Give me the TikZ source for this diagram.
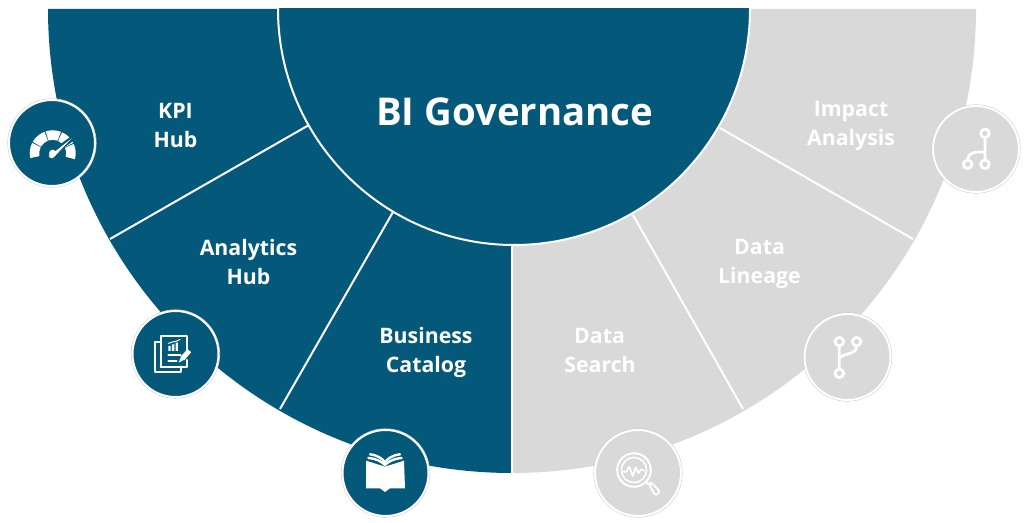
\documentclass[tikz,border=0pt]{standalone}
\usepackage{fontspec}
\setmainfont{Open Sans}
\definecolor{dk}{HTML}{04587A}
\definecolor{lg}{HTML}{D9D9D9}
\tikzset{
 x=1pt,y=1pt,
 lbl/.style={text=white,font=\bfseries\fontsize{21.3}{29}\selectfont,align=center,inner sep=0pt},
 badgedk/.style={circle,fill=dk,draw=white,line width=2pt,minimum size=86pt,inner sep=0pt},
 badgelg/.style={circle,fill=lg,draw=white,line width=2pt,minimum size=86pt,inner sep=0pt},
 halo/.style={draw=black!20,line width=.7pt,fill=none},
 divider/.style={draw=white,line width=2pt},
 ic/.style={draw=white,line width=2pt,line cap=round,line join=round},
 icf/.style={fill=white,draw=none},
 crop/.style 2 args={shift={(#1pt,522pt-#2pt)},x=.3333pt,y=-.3333pt},
}
\newcommand{\badge}[4]{%
 \draw[halo] (#2,#3) circle (44.2pt);
 \node[badge#4] (#1) at (#2,#3) {};}
\begin{document}
\begin{tikzpicture}
\useasboundingbox (0,0) rectangle (1024,522);
\coordinate (o) at (512,513);
\fill[dk] (48,513) arc (180:270:464pt) -- (o) -- cycle;
\fill[lg] (976,513) arc (0:-90:464pt) -- (o) -- cycle;
% dividers
\coordinate (d1a) at (309,397); \coordinate (d1b) at (110,283);
\coordinate (d2a) at (393,310); \coordinate (d2b) at (280,113);
\coordinate (d3a) at (512,277); \coordinate (d3b) at (512,49);
\coordinate (d4a) at (633,307); \coordinate (d4b) at (743,113);
\coordinate (d5a) at (720,394); \coordinate (d5b) at (913,283);
\foreach \n in {1,...,5} \draw[divider] (d\n a) -- (d\n b);
% central half disc
\begin{scope}
\clip (0,513) rectangle (1024,0);
\fill[dk,draw=white,line width=2pt] (514,513) circle (236pt);
\end{scope}
\node[text=white,font=\bfseries\fontsize{38.3}{42}\selectfont,inner sep=0pt] (title) at (514.5,410) {BI Governance};
% labels
\node[lbl] (kpi) at (175.5,396.5) {KPI\\Hub};
\node[lbl] (ana) at (248.5,259.5) {Analytics\\Hub};
\node[lbl] (bus) at (426,170) {Business\\Catalog};
\node[lbl] (sea) at (600,171) {Data\hspace*{1pt}\\Search};
\node[lbl] (lin) at (759.5,258) {Data\\Lineage};
\node[lbl] (imp) at (851,396) {Impact\\Analysis};
% badges
\badge{bkpi}{52}{379}{dk}
\badge{bana}{175.5}{168}{dk}
\badge{bbus}{385.5}{49}{dk}
\badge{bsea}{638}{49}{lg}
\badge{blin}{847.5}{165}{lg}
\badge{bimp}{976}{373}{lg}
% gauge
\begin{scope}[shift={(52.7pt,368.7pt)}]
\foreach \a in {-15,27,69,111,153}
  \fill[icf] (\a:23) arc (\a:\a+39:23pt) -- (\a+39:13.5) arc (\a+39:\a:13.5pt) -- cycle;
\draw[dk,line width=5pt,line cap=round] (2,2) -- (20,15);
\fill[icf] (-3,-2.5) -- (19,15) -- (1.5,-3.5) arc (-30:-200:2.9pt) -- cycle;
\fill[icf] (0,0) circle (3.6pt);
\end{scope}
% report
\begin{scope}[crop={120}{300}]
\draw[ic] (122,125) -- (106,125) -- (106,215) -- (184,215) -- (184,200);
\draw[ic] (122,200) -- (122,108) -- (200,108) -- (200,150) (200,180) -- (200,200) -- (122,200);
\fill[icf] (145,138) rectangle (152,153) (156,133) rectangle (163,153) (167,128) rectangle (174,153);
\draw[ic,line width=1pt] (145,130) -- (158,126) -- (168,124) -- (180,118);
\draw[ic] (145,166) -- (182,166) (145,182) -- (170,182);
\draw[white,line width=5pt] (187,176) -- (208,152);
\fill[icf] (176,188) -- (184,168) -- (195,178) -- cycle;
\end{scope}
% book
\begin{scope}[crop={330}{420}]
\fill[icf] (108,122) -- (165,140) -- (222,122) -- (225,205) -- (180,205) -- (165,216) -- (150,205) -- (108,205) -- cycle;
\draw[white,line width=2.4pt,line cap=round] (120,103) .. controls (145,106) and (160,118) .. (165,128) .. controls (170,118) and (185,106) .. (210,103);
\draw[white,line width=2.4pt,line cap=round] (115,114) .. controls (140,116) and (155,125) .. (165,135) .. controls (175,125) and (190,116) .. (215,114);
\end{scope}
% magnifier
\begin{scope}[crop={585}{420}]
\draw[ic] (147,150) circle (16.8pt);
\draw[ic,line width=1.6pt] (147,150) circle (12.6pt);
\draw[ic,line width=1.7pt] (116,155) -- (124,155) -- (133,140) -- (143,168) -- (152,142) -- (160,160) -- (168,148) -- (178,152);
\draw[ic] (183,186) -- (190,193);
\draw[ic,line width=1.8pt,rounded corners=3pt] (192,194) -- (212,228) -- (226,216) -- (198,186) -- cycle;
\end{scope}
% branch
\begin{scope}[crop={795}{305}]
\draw[ic,line width=2.8pt] (133,110) circle (4.3pt) (185,110) circle (4.3pt) (133,205) circle (4.3pt);
\draw[ic,line width=2.8pt] (133,125) -- (133,190) (133,160) .. controls (140,145) and (185,150) .. (185,125);
\end{scope}
% impact
\begin{scope}[crop={925}{95}]
\draw[ic,line width=2.8pt] (180,115) circle (4.3pt) (128,208) circle (4.3pt) (180,208) circle (4.3pt);
\draw[ic,line width=2.8pt] (180,130) -- (180,193) (180,172) .. controls (150,168) and (128,175) .. (128,193);
\end{scope}
\end{tikzpicture}
\end{document}
